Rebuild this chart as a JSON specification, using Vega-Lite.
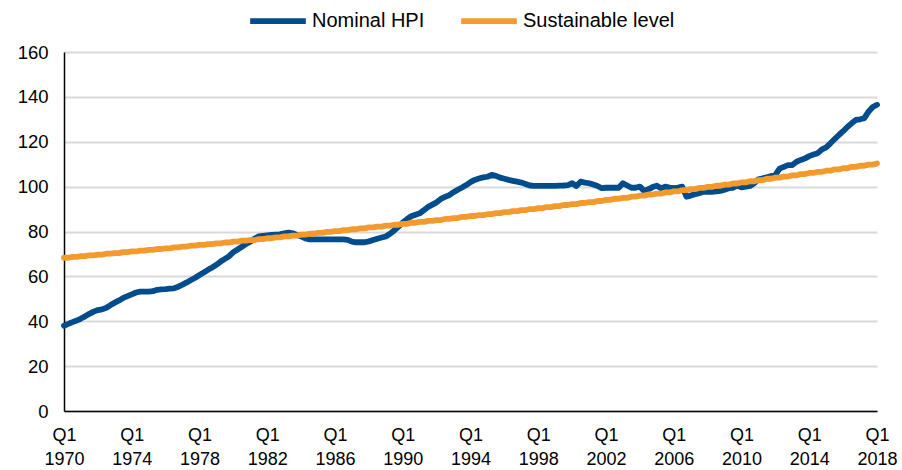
{
"$schema":"https://vega.github.io/schema/vega-lite/v6.json",
"width":813,"height":359,
"autosize":{"type":"none"},
"padding":{"left":64,"top":52,"right":25,"bottom":59},
"background":"white",
"config":{"view":{"stroke":null},"font":"Liberation Sans"},
"data":{"values":[
{"t":1970,"Nominal HPI":38.0,"Sustainable level":68.3},{"t":1970.25,"Nominal HPI":38.8,"Sustainable level":68.3},{"t":1970.5,"Nominal HPI":39.6,"Sustainable level":68.7},{"t":1970.75,"Nominal HPI":40.3,"Sustainable level":68.7},
{"t":1971,"Nominal HPI":41.2,"Sustainable level":69.0},{"t":1971.25,"Nominal HPI":42.2,"Sustainable level":69.0},{"t":1971.5,"Nominal HPI":43.3,"Sustainable level":69.4},{"t":1971.75,"Nominal HPI":44.3,"Sustainable level":69.4},
{"t":1972,"Nominal HPI":45.0,"Sustainable level":69.7},{"t":1972.25,"Nominal HPI":45.3,"Sustainable level":69.7},{"t":1972.5,"Nominal HPI":46.0,"Sustainable level":70.1},{"t":1972.75,"Nominal HPI":47.2,"Sustainable level":70.1},
{"t":1973,"Nominal HPI":48.3,"Sustainable level":70.4},{"t":1973.25,"Nominal HPI":49.3,"Sustainable level":70.4},{"t":1973.5,"Nominal HPI":50.4,"Sustainable level":70.8},{"t":1973.75,"Nominal HPI":51.2,"Sustainable level":70.8},
{"t":1974,"Nominal HPI":52.0,"Sustainable level":71.1},{"t":1974.25,"Nominal HPI":52.8,"Sustainable level":71.1},{"t":1974.5,"Nominal HPI":53.2,"Sustainable level":71.5},{"t":1974.75,"Nominal HPI":53.2,"Sustainable level":71.5},
{"t":1975,"Nominal HPI":53.2,"Sustainable level":71.8},{"t":1975.25,"Nominal HPI":53.4,"Sustainable level":71.8},{"t":1975.5,"Nominal HPI":54.0,"Sustainable level":72.2},{"t":1975.75,"Nominal HPI":54.2,"Sustainable level":72.2},
{"t":1976,"Nominal HPI":54.3,"Sustainable level":72.5},{"t":1976.25,"Nominal HPI":54.5,"Sustainable level":72.5},{"t":1976.5,"Nominal HPI":54.7,"Sustainable level":72.9},{"t":1976.75,"Nominal HPI":55.4,"Sustainable level":72.9},
{"t":1977,"Nominal HPI":56.3,"Sustainable level":73.3},{"t":1977.25,"Nominal HPI":57.3,"Sustainable level":73.3},{"t":1977.5,"Nominal HPI":58.4,"Sustainable level":73.7},{"t":1977.75,"Nominal HPI":59.4,"Sustainable level":73.7},
{"t":1978,"Nominal HPI":60.6,"Sustainable level":74.0},{"t":1978.25,"Nominal HPI":61.7,"Sustainable level":74.0},{"t":1978.5,"Nominal HPI":62.9,"Sustainable level":74.4},{"t":1978.75,"Nominal HPI":64.0,"Sustainable level":74.4},
{"t":1979,"Nominal HPI":65.2,"Sustainable level":74.7},{"t":1979.25,"Nominal HPI":66.6,"Sustainable level":74.7},{"t":1979.5,"Nominal HPI":67.8,"Sustainable level":75.1},{"t":1979.75,"Nominal HPI":69.0,"Sustainable level":75.1},
{"t":1980,"Nominal HPI":70.8,"Sustainable level":75.5},{"t":1980.25,"Nominal HPI":72.0,"Sustainable level":75.5},{"t":1980.5,"Nominal HPI":73.2,"Sustainable level":75.9},{"t":1980.75,"Nominal HPI":74.5,"Sustainable level":75.9},
{"t":1981,"Nominal HPI":75.5,"Sustainable level":76.2},{"t":1981.25,"Nominal HPI":76.8,"Sustainable level":76.2},{"t":1981.5,"Nominal HPI":77.8,"Sustainable level":76.6},{"t":1981.75,"Nominal HPI":78.1,"Sustainable level":76.6},
{"t":1982,"Nominal HPI":78.3,"Sustainable level":77.0},{"t":1982.25,"Nominal HPI":78.5,"Sustainable level":77.0},{"t":1982.5,"Nominal HPI":78.6,"Sustainable level":77.4},{"t":1982.75,"Nominal HPI":78.7,"Sustainable level":77.4},
{"t":1983,"Nominal HPI":79.2,"Sustainable level":77.8},{"t":1983.25,"Nominal HPI":79.5,"Sustainable level":77.8},{"t":1983.5,"Nominal HPI":79.2,"Sustainable level":78.2},{"t":1983.75,"Nominal HPI":78.5,"Sustainable level":78.2},
{"t":1984,"Nominal HPI":77.8,"Sustainable level":78.6},{"t":1984.25,"Nominal HPI":76.9,"Sustainable level":78.6},{"t":1984.5,"Nominal HPI":76.5,"Sustainable level":79.0},{"t":1984.75,"Nominal HPI":76.5,"Sustainable level":79.0},
{"t":1985,"Nominal HPI":76.5,"Sustainable level":79.4},{"t":1985.25,"Nominal HPI":76.5,"Sustainable level":79.4},{"t":1985.5,"Nominal HPI":76.5,"Sustainable level":79.8},{"t":1985.75,"Nominal HPI":76.5,"Sustainable level":79.8},
{"t":1986,"Nominal HPI":76.5,"Sustainable level":80.2},{"t":1986.25,"Nominal HPI":76.5,"Sustainable level":80.2},{"t":1986.5,"Nominal HPI":76.5,"Sustainable level":80.6},{"t":1986.75,"Nominal HPI":76.3,"Sustainable level":80.6},
{"t":1987,"Nominal HPI":75.5,"Sustainable level":81.0},{"t":1987.25,"Nominal HPI":75.2,"Sustainable level":81.0},{"t":1987.5,"Nominal HPI":75.2,"Sustainable level":81.4},{"t":1987.75,"Nominal HPI":75.2,"Sustainable level":81.4},
{"t":1988,"Nominal HPI":75.6,"Sustainable level":81.8},{"t":1988.25,"Nominal HPI":76.2,"Sustainable level":81.8},{"t":1988.5,"Nominal HPI":76.8,"Sustainable level":82.2},{"t":1988.75,"Nominal HPI":77.3,"Sustainable level":82.2},
{"t":1989,"Nominal HPI":77.8,"Sustainable level":82.6},{"t":1989.25,"Nominal HPI":79.0,"Sustainable level":82.6},{"t":1989.5,"Nominal HPI":80.5,"Sustainable level":83.0},{"t":1989.75,"Nominal HPI":82.2,"Sustainable level":83.0},
{"t":1990,"Nominal HPI":84.0,"Sustainable level":83.4},{"t":1990.25,"Nominal HPI":85.5,"Sustainable level":83.4},{"t":1990.5,"Nominal HPI":86.8,"Sustainable level":83.9},{"t":1990.75,"Nominal HPI":87.5,"Sustainable level":83.9},
{"t":1991,"Nominal HPI":88.1,"Sustainable level":84.3},{"t":1991.25,"Nominal HPI":89.5,"Sustainable level":84.3},{"t":1991.5,"Nominal HPI":91.0,"Sustainable level":84.7},{"t":1991.75,"Nominal HPI":92.0,"Sustainable level":84.7},
{"t":1992,"Nominal HPI":93.0,"Sustainable level":85.1},{"t":1992.25,"Nominal HPI":94.5,"Sustainable level":85.1},{"t":1992.5,"Nominal HPI":95.4,"Sustainable level":85.6},{"t":1992.75,"Nominal HPI":96.2,"Sustainable level":85.6},
{"t":1993,"Nominal HPI":97.5,"Sustainable level":86.0},{"t":1993.25,"Nominal HPI":98.6,"Sustainable level":86.0},{"t":1993.5,"Nominal HPI":99.6,"Sustainable level":86.5},{"t":1993.75,"Nominal HPI":100.7,"Sustainable level":86.5},
{"t":1994,"Nominal HPI":102.0,"Sustainable level":86.9},{"t":1994.25,"Nominal HPI":103.0,"Sustainable level":86.9},{"t":1994.5,"Nominal HPI":103.6,"Sustainable level":87.3},{"t":1994.75,"Nominal HPI":104.1,"Sustainable level":87.3},
{"t":1995,"Nominal HPI":104.4,"Sustainable level":87.7},{"t":1995.25,"Nominal HPI":105.2,"Sustainable level":87.7},{"t":1995.5,"Nominal HPI":104.8,"Sustainable level":88.2},{"t":1995.75,"Nominal HPI":104.0,"Sustainable level":88.2},
{"t":1996,"Nominal HPI":103.5,"Sustainable level":88.6},{"t":1996.25,"Nominal HPI":103.0,"Sustainable level":88.6},{"t":1996.5,"Nominal HPI":102.6,"Sustainable level":89.1},{"t":1996.75,"Nominal HPI":102.2,"Sustainable level":89.1},
{"t":1997,"Nominal HPI":101.8,"Sustainable level":89.5},{"t":1997.25,"Nominal HPI":101.2,"Sustainable level":89.5},{"t":1997.5,"Nominal HPI":100.5,"Sustainable level":90.0},{"t":1997.75,"Nominal HPI":100.3,"Sustainable level":90.0},
{"t":1998,"Nominal HPI":100.3,"Sustainable level":90.4},{"t":1998.25,"Nominal HPI":100.3,"Sustainable level":90.4},{"t":1998.5,"Nominal HPI":100.3,"Sustainable level":90.9},{"t":1998.75,"Nominal HPI":100.3,"Sustainable level":90.9},
{"t":1999,"Nominal HPI":100.3,"Sustainable level":91.3},{"t":1999.25,"Nominal HPI":100.4,"Sustainable level":91.3},{"t":1999.5,"Nominal HPI":100.5,"Sustainable level":91.8},{"t":1999.75,"Nominal HPI":100.7,"Sustainable level":91.8},
{"t":2000,"Nominal HPI":101.5,"Sustainable level":92.2},{"t":2000.25,"Nominal HPI":100.3,"Sustainable level":92.2},{"t":2000.5,"Nominal HPI":102.2,"Sustainable level":92.7},{"t":2000.75,"Nominal HPI":101.8,"Sustainable level":92.7},
{"t":2001,"Nominal HPI":101.5,"Sustainable level":93.1},{"t":2001.25,"Nominal HPI":100.9,"Sustainable level":93.1},{"t":2001.5,"Nominal HPI":100.3,"Sustainable level":93.6},{"t":2001.75,"Nominal HPI":99.3,"Sustainable level":93.6},
{"t":2002,"Nominal HPI":99.5,"Sustainable level":94.1},{"t":2002.25,"Nominal HPI":99.5,"Sustainable level":94.1},{"t":2002.5,"Nominal HPI":99.5,"Sustainable level":94.6},{"t":2002.75,"Nominal HPI":99.5,"Sustainable level":94.6},
{"t":2003,"Nominal HPI":101.5,"Sustainable level":95.0},{"t":2003.25,"Nominal HPI":100.5,"Sustainable level":95.0},{"t":2003.5,"Nominal HPI":99.5,"Sustainable level":95.5},{"t":2003.75,"Nominal HPI":99.5,"Sustainable level":95.5},
{"t":2004,"Nominal HPI":100.0,"Sustainable level":96.0},{"t":2004.25,"Nominal HPI":98.1,"Sustainable level":96.0},{"t":2004.5,"Nominal HPI":98.8,"Sustainable level":96.5},{"t":2004.75,"Nominal HPI":99.8,"Sustainable level":96.5},
{"t":2005,"Nominal HPI":100.4,"Sustainable level":96.9},{"t":2005.25,"Nominal HPI":99.3,"Sustainable level":96.9},{"t":2005.5,"Nominal HPI":100.0,"Sustainable level":97.4},{"t":2005.75,"Nominal HPI":99.6,"Sustainable level":97.4},
{"t":2006,"Nominal HPI":99.3,"Sustainable level":97.9},{"t":2006.25,"Nominal HPI":99.6,"Sustainable level":97.9},{"t":2006.5,"Nominal HPI":100.0,"Sustainable level":98.4},{"t":2006.75,"Nominal HPI":95.5,"Sustainable level":98.4},
{"t":2007,"Nominal HPI":96.0,"Sustainable level":98.9},{"t":2007.25,"Nominal HPI":96.6,"Sustainable level":98.9},{"t":2007.5,"Nominal HPI":97.1,"Sustainable level":99.4},{"t":2007.75,"Nominal HPI":97.7,"Sustainable level":99.4},
{"t":2008,"Nominal HPI":97.7,"Sustainable level":99.9},{"t":2008.25,"Nominal HPI":97.7,"Sustainable level":99.9},{"t":2008.5,"Nominal HPI":97.9,"Sustainable level":100.4},{"t":2008.75,"Nominal HPI":98.1,"Sustainable level":100.4},
{"t":2009,"Nominal HPI":98.6,"Sustainable level":100.9},{"t":2009.25,"Nominal HPI":99.3,"Sustainable level":100.9},{"t":2009.5,"Nominal HPI":99.5,"Sustainable level":101.4},{"t":2009.75,"Nominal HPI":100.4,"Sustainable level":101.4},
{"t":2010,"Nominal HPI":99.7,"Sustainable level":101.9},{"t":2010.25,"Nominal HPI":100.0,"Sustainable level":101.9},{"t":2010.5,"Nominal HPI":100.3,"Sustainable level":102.4},{"t":2010.75,"Nominal HPI":101.5,"Sustainable level":102.4},
{"t":2011,"Nominal HPI":103.3,"Sustainable level":102.9},{"t":2011.25,"Nominal HPI":103.7,"Sustainable level":102.9},{"t":2011.5,"Nominal HPI":104.2,"Sustainable level":103.5},{"t":2011.75,"Nominal HPI":104.7,"Sustainable level":103.5},
{"t":2012,"Nominal HPI":105.2,"Sustainable level":104.0},{"t":2012.25,"Nominal HPI":108.0,"Sustainable level":104.0},{"t":2012.5,"Nominal HPI":108.8,"Sustainable level":104.5},{"t":2012.75,"Nominal HPI":109.6,"Sustainable level":104.5},
{"t":2013,"Nominal HPI":109.6,"Sustainable level":105.0},{"t":2013.25,"Nominal HPI":111.1,"Sustainable level":105.0},{"t":2013.5,"Nominal HPI":111.9,"Sustainable level":105.6},{"t":2013.75,"Nominal HPI":112.6,"Sustainable level":105.6},
{"t":2014,"Nominal HPI":113.6,"Sustainable level":106.1},{"t":2014.25,"Nominal HPI":114.3,"Sustainable level":106.1},{"t":2014.5,"Nominal HPI":114.9,"Sustainable level":106.6},{"t":2014.75,"Nominal HPI":116.6,"Sustainable level":106.6},
{"t":2015,"Nominal HPI":117.5,"Sustainable level":107.1},{"t":2015.25,"Nominal HPI":119.3,"Sustainable level":107.1},{"t":2015.5,"Nominal HPI":121.2,"Sustainable level":107.7},{"t":2015.75,"Nominal HPI":123.0,"Sustainable level":107.7},
{"t":2016,"Nominal HPI":124.7,"Sustainable level":108.2},{"t":2016.25,"Nominal HPI":126.6,"Sustainable level":108.2},{"t":2016.5,"Nominal HPI":128.2,"Sustainable level":108.8},{"t":2016.75,"Nominal HPI":129.7,"Sustainable level":108.8},
{"t":2017,"Nominal HPI":130.0,"Sustainable level":109.3},{"t":2017.25,"Nominal HPI":130.5,"Sustainable level":109.3},{"t":2017.5,"Nominal HPI":133.4,"Sustainable level":109.8},{"t":2017.75,"Nominal HPI":135.5,"Sustainable level":109.8},
{"t":2018,"Nominal HPI":136.5,"Sustainable level":110.3}
]},
"transform":[{"fold":["Nominal HPI","Sustainable level"],"as":["series","value"]}],
"mark":{"type":"line","strokeWidth":5.8,"strokeCap":"round","strokeJoin":"round"},
"encoding":{
"x":{"field":"t","type":"quantitative","scale":{"domain":[1970,2018],"nice":false,"zero":false},
"axis":{"title":null,"values":[1970,1974,1978,1982,1986,1990,1994,1998,2002,2006,2010,2014,2018],"labelExpr":"['Q1', '' + datum.value]","grid":false,"ticks":false,"domainColor":"#000000","domainWidth":1.5,"labelFontSize":18,"labelColor":"#000000","labelPadding":15,"labelLineHeight":24,"labelFlush":false,"labelOverlap":false}},
"y":{"field":"value","type":"quantitative","scale":{"domain":[0,160],"nice":false},
"axis":{"title":null,"values":[0,20,40,60,80,100,120,140,160],"grid":true,"gridColor":"#d9d9d9","gridWidth":2,"ticks":false,"domainColor":"#000000","domainWidth":1.5,"labelFontSize":18.5,"labelColor":"#000000","labelPadding":16}},
"color":{"field":"series","type":"nominal","scale":{"domain":["Nominal HPI","Sustainable level"],"range":["#004C8C","#F39A2D"]},
"legend":{"title":null,"orient":"none","legendX":183,"legendY":-62,"direction":"horizontal","symbolType":"stroke","symbolSize":3100,"symbolStrokeWidth":5.8,"labelFontSize":20,"labelColor":"#000000","labelOffset":3,"columnPadding":24,"padding":0}}
}
}
